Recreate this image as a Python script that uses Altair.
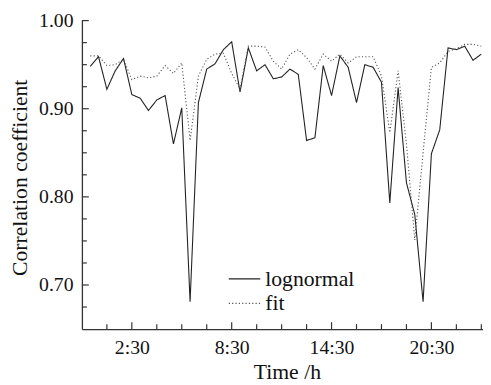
import altair as alt
import pandas as pd

# ---- data ----
time_h = [i * 0.5 for i in range(48)]  # 0:00 .. 23:30, half-hour steps
lognormal = [0.948, 0.959, 0.922, 0.943, 0.957, 0.916, 0.912, 0.898, 0.910, 0.915,
             0.860, 0.901, 0.681, 0.907, 0.945, 0.951, 0.967, 0.976, 0.919, 0.969,
             0.943, 0.950, 0.934, 0.936, 0.945, 0.939, 0.864, 0.867, 0.949, 0.915,
             0.960, 0.947, 0.907, 0.950, 0.947, 0.930, 0.793, 0.924, 0.816, 0.780,
             0.681, 0.849, 0.876, 0.969, 0.967, 0.971, 0.955, 0.962]
fit = [0.960, 0.960, 0.949, 0.950, 0.956, 0.933, 0.937, 0.935, 0.937, 0.949,
       0.940, 0.952, 0.864, 0.937, 0.956, 0.962, 0.963, 0.940, 0.922, 0.971,
       0.971, 0.970, 0.954, 0.945, 0.962, 0.967, 0.958, 0.945, 0.962, 0.954,
       0.962, 0.952, 0.959, 0.959, 0.959, 0.937, 0.873, 0.943, 0.860, 0.751,
       0.850, 0.947, 0.952, 0.965, 0.968, 0.973, 0.973, 0.971]
series_names = ["lognormal", "fit"]

x_label_values = [2.5, 8.5, 14.5, 20.5]
x_label_texts = ["2:30", "8:30", "14:30", "20:30"]
x_tick_values = [1.0, 2.5, 4.0, 5.5, 7.0, 8.5, 10.0, 11.5, 13.0, 14.5, 16.0, 17.5,
                 19.0, 20.5, 22.0, 23.5]
y_label_values = [0.70, 0.80, 0.90, 1.00]
y_tick_values = [0.675, 0.70, 0.725, 0.75, 0.775, 0.80, 0.825, 0.85, 0.875, 0.90,
                 0.925, 0.95, 0.975, 1.00]

FONT = "Liberation Serif"
TXT = "#111111"
LINE_COLORS = ["#222222", "#555555"]
DASHES = [[1, 0], [1.2, 2.2]]
W, H = 407, 313
XDOM = [-0.5, 23.6]
YDOM = [0.65, 1.00]

df = pd.DataFrame({
    "time": time_h * 2,
    "value": lognormal + fit,
    "series": [series_names[0]] * len(time_h) + [series_names[1]] * len(time_h),
})

label_expr = ""
for v, t in zip(x_label_values, x_label_texts):
    label_expr += f"datum.value == {v} ? '{t}' : "
label_expr += "''"

xscale = alt.Scale(domain=XDOM, nice=False, zero=False)
yscale = alt.Scale(domain=YDOM, nice=False, zero=False)

lines = alt.Chart(df).mark_line(strokeWidth=1.1, clip=True).encode(
    x=alt.X("time:Q", scale=xscale,
            axis=alt.Axis(values=x_label_values, labelExpr=label_expr, ticks=False,
                          grid=False, labelPadding=9, labelFontSize=20, labelFont=FONT,
                          title="Time /h", titleFont=FONT, titleFontSize=22,
                          titleFontWeight="normal",
                          titleX=208, titleY=50, titleBaseline="alphabetic",
                          titleAlign="center")),
    y=alt.Y("value:Q", scale=yscale,
            axis=alt.Axis(values=y_label_values, format=".2f", ticks=False, grid=False,
                          labelPadding=9, labelFontSize=20, labelFont=FONT,
                          title="Correlation coefficient", titleFont=FONT,
                          titleFontSize=22, titleFontWeight="normal", titleAngle=-90,
                          titleX=-56, titleY=159, titleBaseline="alphabetic",
                          titleAlign="center")),
    color=alt.Color("series:N", scale=alt.Scale(domain=series_names, range=LINE_COLORS),
                    legend=None),
    strokeDash=alt.StrokeDash("series:N", scale=alt.Scale(domain=series_names, range=DASHES),
                              legend=None),
)

# manual legend (layout only; labels come from series_names)
leg_df = pd.DataFrame({"series": series_names})
legend_layers = []
for i, name in enumerate(series_names):
    ly = 262 + 25 * i
    sub = alt.Chart(leg_df).transform_filter(alt.datum.series == name)
    legend_layers.append(sub.mark_rule(color=LINE_COLORS[i], strokeWidth=1.2,
                                       strokeDash=DASHES[i]).encode(
        x=alt.value(149), x2=alt.value(181), y=alt.value(ly)))
    legend_layers.append(sub.mark_text(align="left", baseline="alphabetic", font=FONT,
                                       fontSize=22, color=TXT).encode(
        x=alt.value(186), y=alt.value(ly + 7), text="series:N"))

xt_df = pd.DataFrame({"t": x_tick_values,
                      "major": [v in x_label_values for v in x_tick_values]})
yt_df = pd.DataFrame({"v": y_tick_values,
                      "major": [any(abs(v - m) < 1e-9 for m in y_label_values)
                                for v in y_tick_values]})

x_ticks_major = alt.Chart(xt_df).transform_filter("datum.major").mark_rule(
    color="#333333", strokeWidth=1.2).encode(
    x=alt.X("t:Q", scale=xscale), y=alt.value(H), y2=alt.value(H - 7))
x_ticks_minor = alt.Chart(xt_df).transform_filter("!datum.major").mark_rule(
    color="#333333", strokeWidth=1.2).encode(
    x=alt.X("t:Q", scale=xscale), y=alt.value(H), y2=alt.value(H - 5))
y_ticks_major = alt.Chart(yt_df).transform_filter("datum.major").mark_rule(
    color="#333333", strokeWidth=1.2).encode(
    y=alt.Y("v:Q", scale=yscale), x=alt.value(0), x2=alt.value(7))
y_ticks_minor = alt.Chart(yt_df).transform_filter("!datum.major").mark_rule(
    color="#333333", strokeWidth=1.2).encode(
    y=alt.Y("v:Q", scale=yscale), x=alt.value(0), x2=alt.value(5))

chart = alt.layer(lines, x_ticks_major, x_ticks_minor, y_ticks_major, y_ticks_minor,
                  *legend_layers).properties(
    width=W, height=H,
    autosize=alt.AutoSizeParams(type="none"),
    padding={"left": 75, "top": 10, "right": 0, "bottom": 56},
).configure(font=FONT, background="white").configure_view(stroke=None).configure_axis(
    domainColor="#333333", domainWidth=1.3, labelColor=TXT, titleColor=TXT,
    labelFont=FONT, titleFont=FONT,
)

chart.save("out.html", embed_options={"renderer": "svg", "actions": False})
